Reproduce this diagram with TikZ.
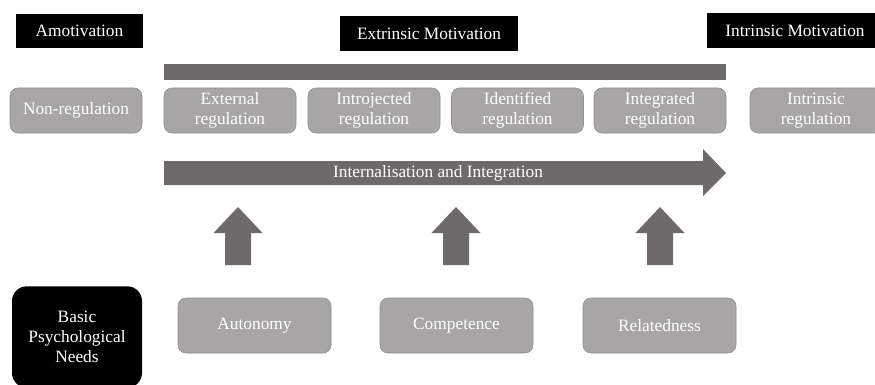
\documentclass[tikz,border=0pt]{standalone}
\usepackage{fontspec}
\setmainfont{Liberation Serif}
\usepackage{tikz}

\definecolor{arrgray}{HTML}{6E696A}
\definecolor{boxgray}{HTML}{A8A5A6}
\definecolor{boxline}{HTML}{8F8C8D}

\begin{document}
\begin{tikzpicture}[x=0.75pt,y=-0.75pt,
        font=\fontsize{13}{15.25}\selectfont,
        hdr/.style={rectangle, fill=black, text=white,
                        inner sep=0pt, minimum height=26pt},
        reg/.style={rectangle, rounded corners=6pt, draw=boxline, fill=boxgray,
                        text=white, align=center, inner sep=0pt,
                        minimum width=99pt, minimum height=33.75pt},
        need/.style={reg, minimum width=114.75pt, minimum height=41.25pt},
        basic/.style={rectangle, rounded corners=11pt, fill=black, text=white,
                        align=center, inner sep=0pt,
                        minimum width=97.5pt, minimum height=76pt}]
    \useasboundingbox (0,0) rectangle (875,385);
    \clip (0,0) rectangle (875,385);
    % headers
    \node[hdr, minimum width=95.25pt] (amot) at (79.5,31) {Amotivation};
    \node[hdr, minimum width=133.5pt] (extr) at (429,33.5) {Extrinsic Motivation};
    \node[hdr, minimum width=132pt] (intr) at (795,30.5) {Intrinsic Motivation};
    \node[rectangle, fill=arrgray, inner sep=0pt,
          minimum width=421.5pt, minimum height=12pt] (bar) at (445,72) {};
    % regulation styles
    \node[reg] (nonreg) at (76,110.5) {Non-regulation};
    \node[reg] (ext) at (230,110.5) {External\\regulation};
    \node[reg] (intro) at (374,110.5) {Introjected\\regulation};
    \node[reg] (ident) at (517.5,110.5) {Identified\\regulation};
    \node[reg] (integ) at (660,110.5) {Integrated\\regulation};
    \node[reg] (intreg) at (816,110.5) {Intrinsic\\regulation};
    % internalisation arrow
    \fill[arrgray] (164,161) -- (703,161) -- (703,149) -- (726,173)
        -- (703,196) -- (703,185) -- (164,185) -- cycle;
    \node[text=white] (intl) at (438,173) {Internalisation and Integration};
    % needs
    \node[basic] (bpn) at (77,337) {Basic\\Psychological\\Needs};
    \node[need] (aut) at (254.5,325.5) {Autonomy};
    \node[need] (com) at (456.5,325.5) {Competence};
    \node[need] (rel) at (659.5,325.5) {Relatedness};
    \foreach \x in {238,456,660} {
        \fill[arrgray] ({\x-13},265) -- ({\x-13},233) -- ({\x-24.5},233)
            -- (\x,207) -- ({\x+24.5},233) -- ({\x+13},233)
            -- ({\x+13},265) -- cycle;
    }
\end{tikzpicture}
\end{document}
